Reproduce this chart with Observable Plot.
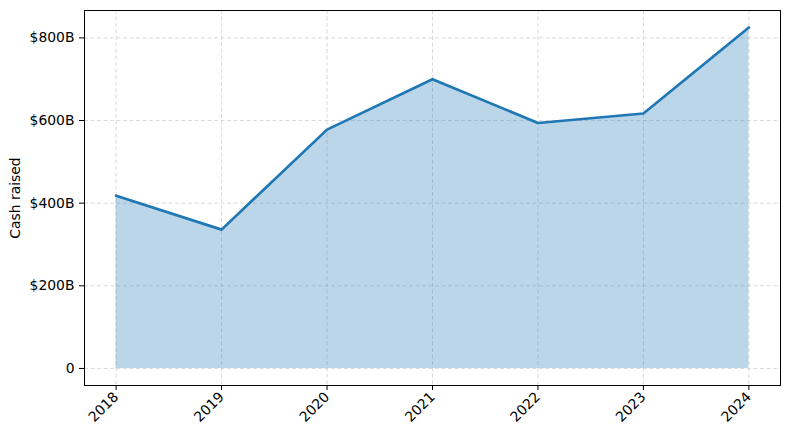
<!DOCTYPE html>
<html>
<head>
<meta charset="utf-8">
<script src="https://cdn.jsdelivr.net/npm/d3@7"></script>
<script src="https://cdn.jsdelivr.net/npm/@observablehq/plot@0.6"></script>
<style>
  body { margin: 0; background: #fff; }
  svg { font-family: "DejaVu Sans", sans-serif; }
</style>
</head>
<body>
<div id="chart"></div>
<script>
const years = [2018, 2019, 2020, 2021, 2022, 2023, 2024];
const cashRaised = [418, 336, 578, 700, 594, 617, 825]; // $B
const yTicks = [0, 200, 400, 600, 800];
const yTickLabels = ["0", "$200B", "$400B", "$600B", "$800B"];

const data = years.map((y, i) => ({year: y, value: cashRaised[i]}));
const color = "#1f77b4";

const chart = Plot.plot({
  width: 790,
  height: 440,
  marginLeft: 84,
  marginRight: 10,
  marginTop: 10,
  marginBottom: 55,
  style: {fontFamily: "DejaVu Sans, sans-serif", fontSize: "13.9px", color: "black", background: "white"},
  x: {domain: [2017.7, 2024.3]},
  y: {domain: [-41.25, 866.25]},
  marks: [
    Plot.gridX(years, {stroke: "#b0b0b0", strokeOpacity: 0.6, strokeDasharray: "4,2.5", strokeWidth: 0.8}),
    Plot.gridY(yTicks, {stroke: "#b0b0b0", strokeOpacity: 0.6, strokeDasharray: "4,2.5", strokeWidth: 0.8}),
    Plot.areaY(data, {x: "year", y: "value", fill: color, fillOpacity: 0.3}),
    Plot.lineY(data, {x: "year", y: "value", stroke: color, strokeWidth: 2.7}),
    Plot.frame({stroke: "black", strokeWidth: 1}),
    Plot.axisX(years, {
      tickSize: 5, tickPadding: 4, tickRotate: -45,
      tickFormat: d => String(d), label: null, fontSize: 13.9
    }),
    Plot.axisY(yTicks, {
      tickSize: 5, tickPadding: 5,
      tickFormat: d => yTickLabels[yTicks.indexOf(d)],
      label: "Cash raised", labelAnchor: "center", labelArrow: "none", labelOffset: 74, fontSize: 13.9
    })
  ]
});
document.getElementById("chart").appendChild(chart);
</script>
</body>
</html>
